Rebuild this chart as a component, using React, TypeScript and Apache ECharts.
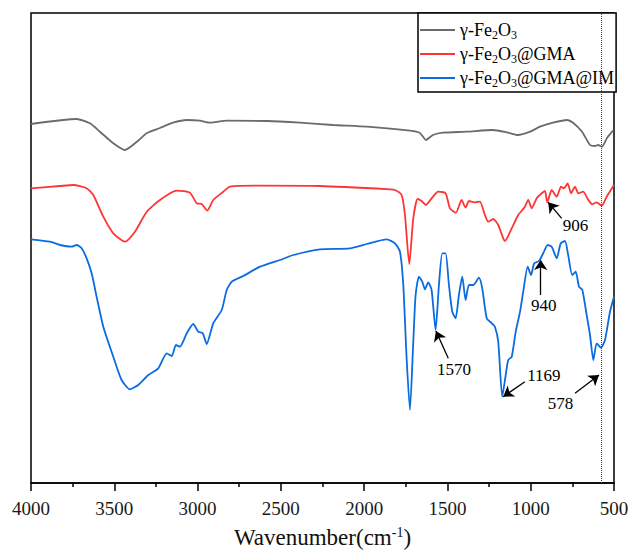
import React, { useEffect, useRef } from 'react';
import * as echarts from 'echarts';

// Series names
const seriesNames = ['γ-Fe2O3', 'γ-Fe2O3@GMA', 'γ-Fe2O3@GMA@IM'];
const seriesColors = ['#6b6b6b', '#ff3535', '#0a6ce0'];

// γ-Fe2O3 (grey) — wavenumber (cm-1) and relative transmittance (a.u., offset)
const wnGray = [4000, 3726, 3646, 3586, 3508, 3436, 3364, 3304, 3226, 3148, 3064, 2986, 2925, 2823, 2583, 2385, 2187, 1983, 1725, 1665, 1629, 1587, 1527, 1383, 1227, 1143, 1077, 1004, 944, 866, 782, 746, 692, 644, 614, 596, 572, 542, 506];
const tGray = [359, 364, 359.7, 351.3, 340, 333, 341.3, 350, 355, 360.3, 363, 362.3, 360.3, 362.3, 362, 360.3, 358, 356.3, 352.3, 350, 343, 348, 350.3, 351.3, 353, 350.7, 348, 351.3, 356.3, 360.3, 363, 360.3, 351.3, 338, 337, 338, 336.3, 345, 352.3];

// γ-Fe2O3@GMA (red)
const wnRed = [4000, 3826, 3746, 3666, 3626, 3566, 3506, 3436, 3376, 3305, 3226, 3125, 3046, 3005, 2975, 2942, 2906, 2846, 2805, 2625, 2265, 1845, 1815, 1775, 1755, 1729, 1705, 1679, 1655, 1629, 1595, 1555, 1511, 1485, 1449, 1415, 1391, 1371, 1335, 1305, 1275, 1255, 1225, 1195, 1165, 1155, 1114, 1075, 1035, 1015, 994, 964, 934, 914, 901, 874, 844, 818, 800, 778, 758, 734, 714, 685, 654, 630, 604, 574, 544, 500];
const tRed = [294.7, 297, 298, 294.7, 288, 266.3, 249.7, 241.3, 251.3, 271.3, 283, 292.3, 290.3, 279.7, 279, 272.3, 283, 291.3, 296.3, 297.3, 297, 293.7, 293, 288, 268, 218.7, 264.7, 284, 282, 278, 284.7, 291.3, 289.7, 274.7, 270.3, 283, 275.3, 282, 280.7, 281.3, 268, 261.3, 264, 258, 244.7, 242, 254.7, 268, 276.3, 283, 274.7, 284.7, 289.7, 292, 280.7, 293, 286.3, 296.3, 294.7, 299.7, 289.7, 296.3, 289.7, 291.3, 283, 278.7, 280.7, 277.3, 286.3, 298];

// γ-Fe2O3@GMA@IM (blue)
const wnBlue = [4000, 3886, 3826, 3756, 3726, 3696, 3666, 3636, 3606, 3566, 3506, 3456, 3406, 3356, 3296, 3236, 3185, 3155, 3130, 3106, 3065, 3026, 2996, 2969, 2945, 2906, 2855, 2825, 2795, 2726, 2625, 2505, 2425, 2265, 2085, 1985, 1865, 1815, 1785, 1765, 1745, 1725, 1705, 1691, 1671, 1651, 1635, 1615, 1595, 1571, 1551, 1531, 1511, 1491, 1471, 1451, 1431, 1411, 1391, 1371, 1345, 1311, 1291, 1264, 1234, 1215, 1195, 1171, 1150, 1135, 1114, 1090, 1064, 1045, 1018, 998, 979, 950, 925, 898, 874, 844, 820, 794, 775, 751, 730, 710, 690, 664, 644, 624, 604, 578, 554, 524, 500];
const tBlue = [243.7, 241.3, 238, 236.3, 238, 234.7, 224.7, 209.7, 186.3, 156.3, 126.3, 103, 93.7, 98, 108, 114.7, 129.7, 127, 138, 136.3, 149.7, 159, 151.3, 149.7, 139, 159.7, 173, 193, 201.3, 207, 216.3, 223, 228, 233.7, 234.7, 239, 243.7, 239.7, 231.3, 198, 124.7, 73, 141.3, 188, 206.3, 201.3, 193.7, 200.7, 193, 153, 198, 229.7, 229.7, 198, 171.3, 164.7, 188, 206.3, 183, 198, 198, 205.3, 194.7, 164.7, 159.7, 156.3, 141.3, 86.3, 108, 123, 126.3, 151.3, 171.3, 191.3, 216.3, 208, 219.7, 222, 229.7, 238, 236.3, 224.7, 239.7, 242, 228, 208, 211.3, 196.3, 193, 168, 148, 123, 139.7, 135.3, 143, 171.3, 186.3];

// Tick labels
const xTicks = [4000, 3500, 3000, 2500, 2000, 1500, 1000, 500];

// Peak annotations: label, text anchor [wn, t], arrow start [wn, t], arrow tip [wn, t]
const noteLabels = ['906', '940', '1570', '1169', '578'];
const noteText = [[731, 258], [921, 178], [1461, 114], [921, 108], [821, 80]];
const noteFrom = [[814, 264.7], [940, 188], [1495, 124.7], [1035, 101.3], [734, 89.7]];
const noteTo = [[895, 280.7], [940, 223], [1569, 152], [1165, 86.3], [590, 108]];
const markerWn = 578;

const zip = (a: number[], b: number[]) => a.map((v, i) => [v, b[i]]);

const FONT = '"Liberation Serif", "Times New Roman", serif';

export default function App() {
  const ref = useRef<HTMLDivElement>(null);
  useEffect(() => {
    const chart = echarts.init(ref.current!, undefined, { renderer: 'svg' });
    const datas = [zip(wnGray, tGray), zip(wnRed, tRed), zip(wnBlue, tBlue)];
    const series: any[] = seriesNames.map((name, i) => ({
      name,
      type: 'line',
      data: datas[i],
      symbol: 'none',
      smooth: 0.2,
      lineStyle: { color: seriesColors[i], width: 1.8 },
      itemStyle: { color: seriesColors[i] },
      z: 3 + i,
    }));
    series[0].markLine = {
      silent: true,
      symbol: ['none', 'none'],
      label: { show: false },
      lineStyle: { color: '#444', type: 'dotted', width: 1 },
      data: [{ xAxis: markerWn }],
    };
    series[2].markLine = {
      silent: true,
      symbol: ['none', 'arrow'],
      symbolSize: 10,
      label: { show: false },
      lineStyle: { color: '#000', type: 'solid', width: 1.3 },
      data: noteFrom.map((f, i) => [{ coord: f }, { coord: noteTo[i] }]),
    };
    series[2].markPoint = {
      silent: true,
      symbol: 'circle',
      symbolSize: 1,
      itemStyle: { color: 'rgba(0,0,0,0)' },
      label: {
        show: true,
        position: 'inside',
        color: '#000',
        fontSize: 17,
        fontFamily: FONT,
        formatter: (p: any) => p.name,
      },
      data: noteLabels.map((l, i) => ({ name: l, coord: noteText[i] })),
    };
    chart.setOption({
      animation: false,
      backgroundColor: '#fff',
      grid: {
        left: 31, right: 16, top: 13, bottom: 69,
        outerBoundsMode: 'none',
        containLabel: false,
        show: true, borderColor: '#000', borderWidth: 1.5,
      },
      legend: {
        data: seriesNames,
        orient: 'vertical',
        left: 418,
        top: 13,
        padding: [6, 2, 3, 2],
        itemGap: 2,
        itemWidth: 35,
        itemHeight: 2,
        icon: 'rect',
        backgroundColor: '#fff',
        borderColor: '#000',
        borderWidth: 1.5,
        borderRadius: 0,
        formatter: (name: string) => name.replace(/(\d)/g, '{sub|$1}'),
        textStyle: {
          fontFamily: FONT, fontSize: 18, lineHeight: 22, color: '#000',
          rich: { sub: { fontFamily: FONT, fontSize: 12, lineHeight: 12, verticalAlign: 'bottom', color: '#000' } },
        },
      },
      xAxis: {
        type: 'value',
        min: 500,
        max: 4000,
        interval: 500,
        inverse: true,
        name: 'Wavenumber(cm{sup|-1})',
        nameLocation: 'middle',
        nameGap: 42,
        nameTextStyle: {
          fontFamily: FONT, fontSize: 23, lineHeight: 24, color: '#111',
          rich: { sup: { fontFamily: FONT, fontSize: 14, lineHeight: 14, verticalAlign: 'top', color: '#111' } },
        },
        axisLine: { show: true, lineStyle: { color: '#000', width: 1.5 } },
        axisTick: { show: true, inside: false, length: 8, lineStyle: { color: '#000', width: 1.5 } },
        minorTick: { show: true, splitNumber: 2, length: 4, lineStyle: { color: '#000', width: 1.5 } },
        splitLine: { show: false },
        axisLabel: {
          margin: 16,
          fontFamily: FONT, fontSize: 19, color: '#1a1a1a',
          formatter: (v: number) => (xTicks.includes(v) ? String(v) : ''),
        },
      },
      yAxis: {
        type: 'value',
        min: 0,
        max: 470,
        show: false,
      },
      series,
    });
    return () => chart.dispose();
  }, []);
  return (
    <div
      ref={ref}
      style={{ position: 'fixed', left: 0, top: 0, width: 630, height: 552, background: '#fff' }}
    />
  );
}
